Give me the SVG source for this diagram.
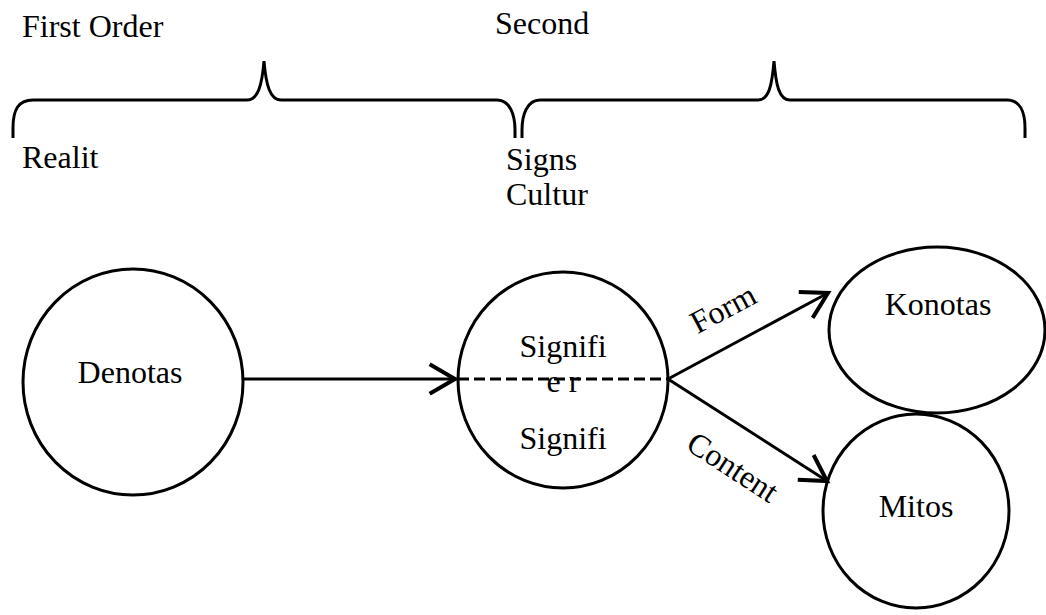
<svg xmlns="http://www.w3.org/2000/svg" width="1046" height="615" viewBox="0 0 1046 615">
<defs>
<style>
text{font-family:"Liberation Serif","Times New Roman",serif;font-size:32px;fill:#000}
.c{text-anchor:middle}
.shape{fill:none;stroke:#000;stroke-width:3}
.ln{fill:none;stroke:#000;stroke-width:3}
</style>
<marker id="arr" markerUnits="userSpaceOnUse" markerWidth="40" markerHeight="40" viewBox="-25 -15 30 30" refX="0" refY="0" orient="auto">
<path d="M-19,-11 L0,0 L-19,11" fill="none" stroke="#000" stroke-width="3"/>
</marker>
</defs>
<rect width="1046" height="615" fill="#fff"/>
<g id="labels">
<text x="22" y="37">First Order</text>
<text x="495" y="34">Second</text>
<text x="22" y="168">Realit</text>
<text x="506" y="170">Signs</text>
<text x="506" y="205">Cultur</text>
</g>
<g id="braces">
<path class="shape" d="M13,138 L13,128 C13,110 18,100 33,100 L247,100 C258,100 262,85 264,61 C266,85 270,100 281,100 L497,100 C510,100 515,115 515,130 L515,138"/>
<path class="shape" d="M522,138 L522,130 C522,115 527,100 540,100 L758,100 C769,100 772,85 774,61 C776,85 779,100 790,100 L1007,100 C1020,100 1025,112 1025,128 L1025,138"/>
</g>
<g id="denotas">
<ellipse class="shape" cx="133" cy="382" rx="110" ry="113"/>
<text class="c" x="130" y="383">Denotas</text>
</g>
<g id="signifier">
<ellipse class="shape" cx="563" cy="380" rx="105" ry="108"/>
<text class="c" x="563" y="357">Signifi</text>
<text class="c" x="563" y="392">e r</text>
<text class="c" x="563" y="449">Signifi</text>
<line x1="458" y1="379" x2="668" y2="379" stroke="#000" stroke-width="3" stroke-dasharray="11 5"/>
</g>
<g id="konotas">
<ellipse class="shape" cx="937" cy="330" rx="108" ry="83"/>
<text class="c" x="938" y="315">Konotas</text>
</g>
<g id="mitos">
<ellipse class="shape" cx="916" cy="511" rx="93" ry="97"/>
<text class="c" x="916" y="517">Mitos</text>
</g>
<g id="connectors">
<line class="ln" x1="243" y1="379" x2="455" y2="379" marker-end="url(#arr)"/>
<line class="ln" x1="668" y1="379" x2="828" y2="293" marker-end="url(#arr)"/>
<line class="ln" x1="668" y1="379" x2="827" y2="481" marker-end="url(#arr)"/>
<text class="c" transform="translate(728,318) rotate(-28)">Form</text>
<text class="c" transform="translate(727,476) rotate(33)">Content</text>
</g>
</svg>
